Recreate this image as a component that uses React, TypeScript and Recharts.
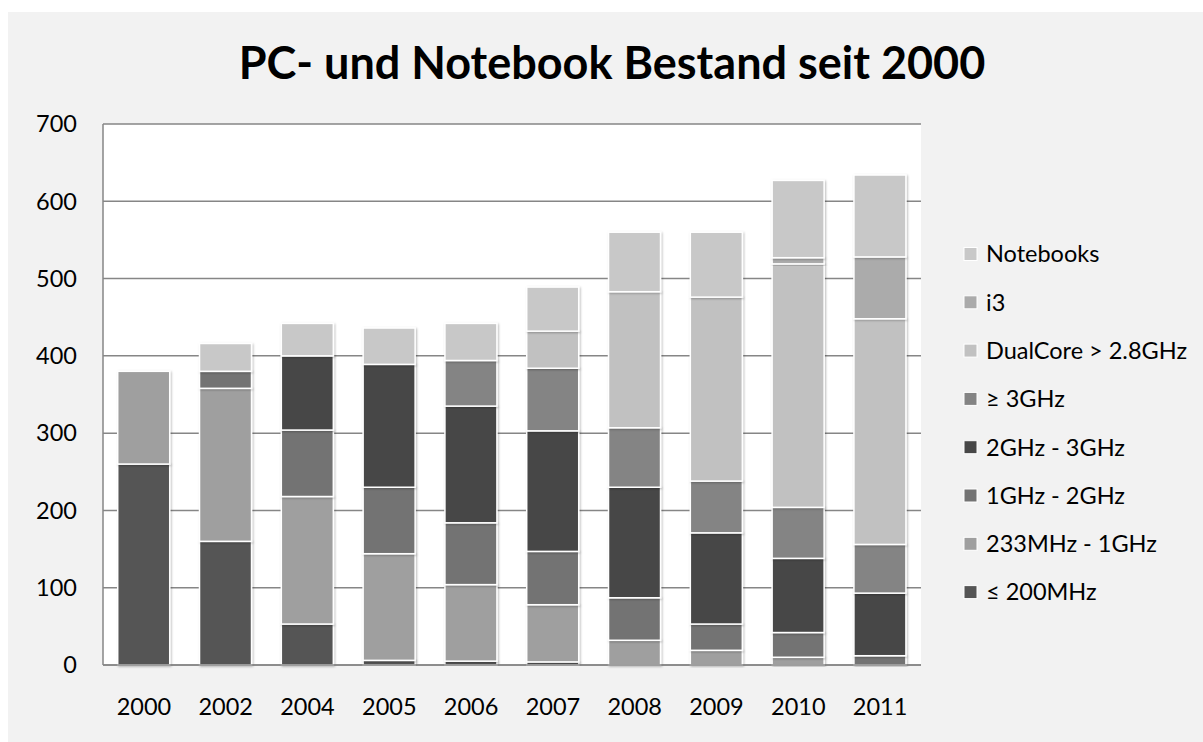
import React from 'react';
import { BarChart, Bar, XAxis, YAxis, CartesianGrid } from 'recharts';

const years = ['2000', '2002', '2004', '2005', '2006', '2007', '2008', '2009', '2010', '2011'];
const mhz200 = [260, 160, 53, 6, 5, 4, 0, 0, 0, 0];
const mhz233to1g = [120, 198, 165, 138, 99, 74, 32, 19, 10, 0];
const ghz1to2 = [0, 22, 86, 86, 80, 69, 55, 34, 32, 12];
const ghz2to3 = [0, 0, 96, 159, 151, 156, 143, 118, 96, 81];
const ghz3plus = [0, 0, 0, 0, 59, 81, 77, 67, 66, 63];
const dualCore = [0, 0, 0, 0, 0, 48, 176, 238, 315, 292];
const i3 = [0, 0, 0, 0, 0, 0, 0, 0, 8, 80];
const notebooks = [0, 36, 42, 47, 48, 57, 77, 84, 100, 106];

const yTicks = [0, 100, 200, 300, 400, 500, 600, 700];
const title = 'PC- und Notebook Bestand seit 2000';

const seriesNames = ['≤ 200MHz', '233MHz - 1GHz', '1GHz - 2GHz', '2GHz - 3GHz', '≥ 3GHz', 'DualCore > 2.8GHz', 'i3', 'Notebooks'];
const seriesValues = [mhz200, mhz233to1g, ghz1to2, ghz2to3, ghz3plus, dualCore, i3, notebooks];
const seriesColors = ['#555555', '#9f9f9f', '#737373', '#474747', '#848484', '#c1c1c1', '#ababab', '#c8c8c8'];

const data = years.map((year, i) => {
  const row: Record<string, string | number> = { year };
  seriesValues.forEach((vals, s) => {
    row['s' + s] = vals[i];
  });
  return row;
});

const FONT = 'Lato, "Open Sans", sans-serif';

const ShadowRect = (props: any) => {
  const { x, y, width, height, fill } = props;
  if (!height || height <= 0) return null;
  return (
    <rect
      x={x}
      y={y}
      width={width}
      height={height}
      fill={fill}
      stroke="#ffffff"
      strokeWidth={1.5}
      filter="url(#barShadow)"
    />
  );
};

export default function App() {
  const legendItems = seriesNames.map((n, i) => ({ name: n, color: seriesColors[i] })).reverse();
  return (
    <div
      style={{
        position: 'fixed',
        left: 8,
        top: 12,
        width: 1195,
        height: 730,
        background: '#f2f2f2',
        fontFamily: FONT,
      }}
    >
      <svg width={0} height={0} style={{ position: 'absolute' }}>
        <defs>
          <filter id="barShadow" x="-20%" y="-20%" width="140%" height="140%">
            <feDropShadow dx="1" dy="1" stdDeviation="1.3" floodColor="#000000" floodOpacity="0.28" />
          </filter>
        </defs>
      </svg>
      <BarChart
        width={1195}
        height={730}
        data={data}
        margin={{ top: 112, right: 282, bottom: 47, left: 35 }}
        barCategoryGap="18%"
      >
        <CartesianGrid vertical={false} horizontal={true} stroke="#868686" strokeWidth={1.5} fill="#ffffff" />
        <XAxis
          dataKey="year"
          height={30}
          tickLine={false}
          tickSize={0}
          tickMargin={33}
          axisLine={{ stroke: '#868686', strokeWidth: 1.5 }}
          tick={{ fill: '#000000', fontSize: 23.5, fontFamily: FONT }}
        />
        <YAxis
          width={60}
          domain={[0, 700]}
          ticks={yTicks}
          tickLine={false}
          tickSize={0}
          tickMargin={26}
          axisLine={{ stroke: '#868686', strokeWidth: 1.5 }}
          tick={{ fill: '#000000', fontSize: 23.5, fontFamily: FONT }}
        />
        {seriesNames.map((name, s) => (
          <Bar
            key={name}
            dataKey={'s' + s}
            name={name}
            stackId="a"
            fill={seriesColors[s]}
            shape={ShadowRect}
            isAnimationActive={false}
          />
        ))}
      </BarChart>
      <svg
        width={1195}
        height={730}
        style={{ position: 'absolute', left: 0, top: 0, pointerEvents: 'none' }}
      >
        <text x={604} y={67} textAnchor="middle" fontFamily={FONT} fontWeight="bold" fontSize={45} fill="#000000">
          {title}
        </text>
        {legendItems.map((it, i) => {
          const cy = 242 + i * 48.3;
          return (
            <g key={it.name}>
              <rect x={956} y={cy - 6.5} width={13} height={13} fill={it.color} stroke="#ffffff" strokeWidth={1} />
              <text x={978} y={cy} dy="0.355em" fontFamily={FONT} fontSize={23.5} fill="#000000">
                {it.name}
              </text>
            </g>
          );
        })}
      </svg>
    </div>
  );
}
